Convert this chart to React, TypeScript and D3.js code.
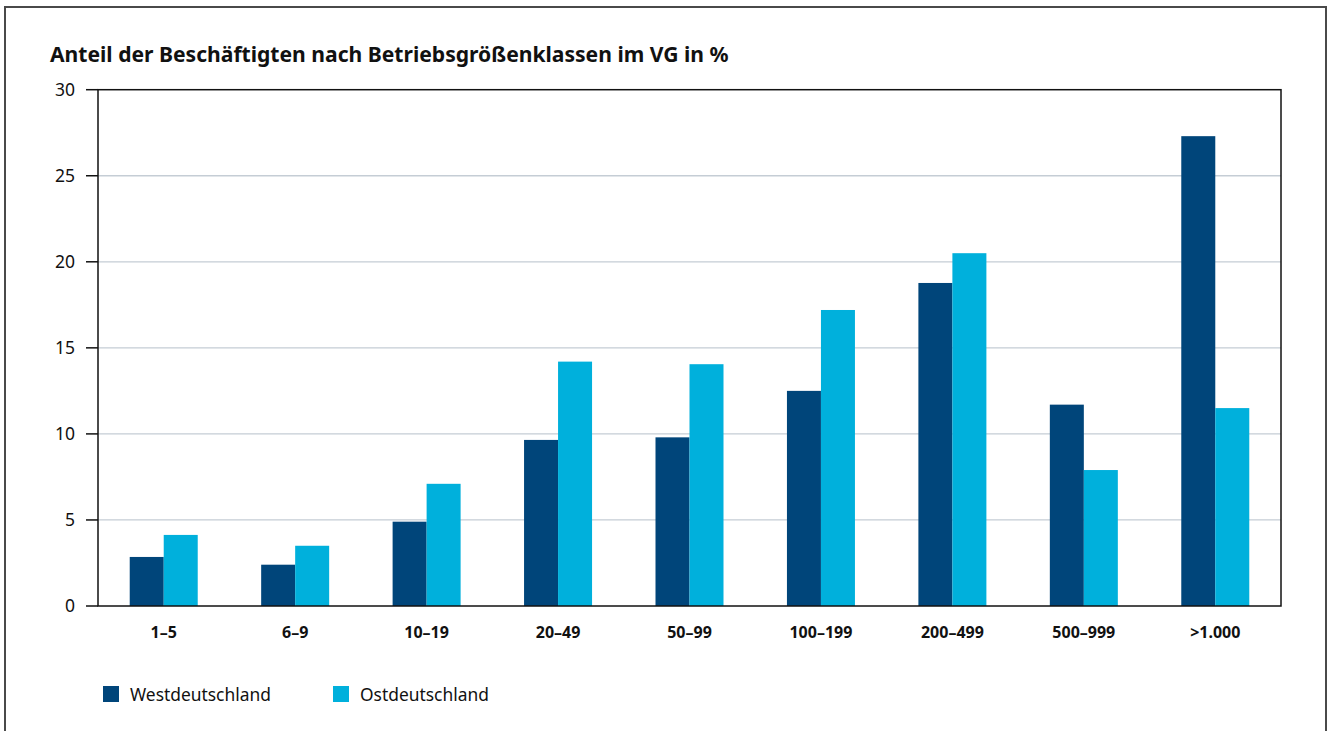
import React from "react";
import * as d3 from "d3";

const categories = ["1–5", "6–9", "10–19", "20–49", "50–99", "100–199", "200–499", "500–999", ">1.000"];
const west = [2.85, 2.4, 4.9, 9.65, 9.8, 12.5, 18.77, 11.7, 27.3];
const ost = [4.13, 3.5, 7.1, 14.2, 14.05, 17.2, 20.5, 7.9, 11.5];
const yTicks = [0, 5, 10, 15, 20, 25, 30];
const seriesNames = ["Westdeutschland", "Ostdeutschland"];
const colors = ["#00457a", "#00b0dc"];
const title = "Anteil der Beschäftigten nach Betriebsgrößenklassen im VG in %";

export default function App() {
  const W = 1333, H = 731;
  const left = 98, right = 1281, top = 89.7, bottom = 606;
  const x = d3.scaleBand<string>().domain(categories).range([left, right]);
  const y = d3.scaleLinear().domain([0, 30]).range([bottom, top]);
  const barW = 34;
  const font = "'Noto Sans', 'Open Sans', sans-serif";
  const series = [west, ost];
  return (
    <svg width={W} height={H} style={{ position: "absolute", left: 0, top: 0, background: "#fff" }} fontFamily={font}>
      <rect x={5} y={7} width={1321} height={H + 20} fill="#fff" stroke="#4a4a4a" strokeWidth={2} />
      <text x={50} y={62} fontSize={21.1} fontWeight={700} fill="#111">{title}</text>
      {yTicks.filter(t => t > 0 && t < 30).map(t => (
        <line key={"g" + t} x1={left} x2={right} y1={y(t)} y2={y(t)} stroke="#c5cdd5" strokeWidth={1.3} />
      ))}
      {series.map((s, si) =>
        s.map((v, i) => {
          const c = x(categories[i])! + x.bandwidth() / 2;
          const bx = si === 0 ? c - barW : c;
          return <rect key={si + "-" + i} x={bx} y={y(v)} width={barW} height={bottom - y(v)} fill={colors[si]} />;
        })
      )}
      <rect x={left} y={top} width={right - left} height={bottom - top} fill="none" stroke="#111" strokeWidth={1.5} />
      {yTicks.map(t => (
        <g key={"t" + t}>
          <line x1={86} x2={left} y1={y(t)} y2={y(t)} stroke="#111" strokeWidth={1.5} />
          <text x={75} y={y(t)} dy="0.35em" textAnchor="end" fontSize={17.5} fill="#111">{t}</text>
        </g>
      ))}
      {categories.map(c => (
        <text key={c} x={x(c)! + x.bandwidth() / 2} y={638} textAnchor="middle" fontSize={16} fontWeight={700} fill="#111">{c}</text>
      ))}
      {seriesNames.map((n, i) => {
        const lx = i === 0 ? 103 : 333;
        return (
          <g key={n}>
            <rect x={lx} y={686} width={16} height={16} fill={colors[i]} />
            <text x={lx + 27} y={700.5} fontSize={17.4} fill="#111">{n}</text>
          </g>
        );
      })}
    </svg>
  );
}
